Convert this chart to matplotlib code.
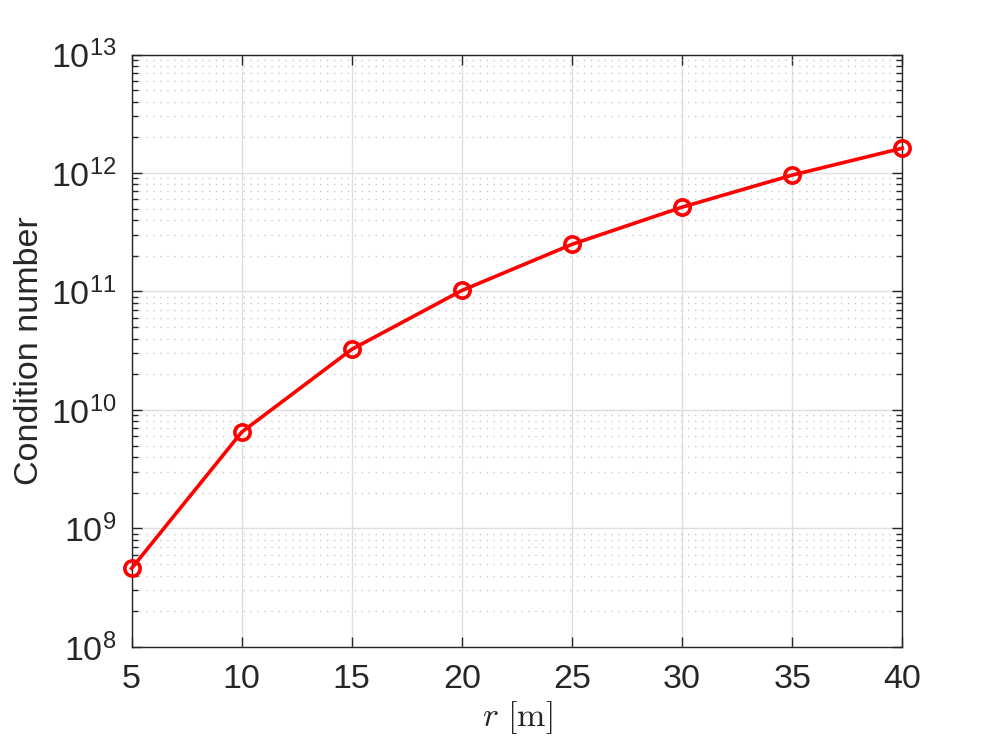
import numpy as np
import matplotlib
matplotlib.use("Agg")
import matplotlib.pyplot as plt
from matplotlib.ticker import LogLocator, FuncFormatter, NullFormatter

# data
r_vals = [5, 10, 15, 20, 25, 30, 35, 40]
cond_vals = [4.6e8, 6.5e9, 3.25e10, 1.02e11, 2.5e11, 5.15e11, 9.6e11, 1.62e12]

x_ticks = [5, 10, 15, 20, 25, 30, 35, 40]

plt.rcParams['font.family'] = ['Liberation Sans', 'DejaVu Sans']
plt.rcParams['mathtext.fontset'] = 'custom'
plt.rcParams['mathtext.rm'] = 'Liberation Sans'
plt.rcParams['mathtext.it'] = 'Liberation Sans:italic'

txt = '#262626'

fig = plt.figure(figsize=(9.97, 7.47), dpi=100)
ax = fig.add_axes([0.132, 0.134, 0.773, 0.793])

ax.plot(r_vals, cond_vals, '-o', color='#ff0000', lw=2.6, ms=11,
        mfc='none', mec='#ff0000', mew=2.6, zorder=5, clip_on=False)

ax.set_yscale('log')
ax.set_xlim(5, 40)
ax.set_ylim(1e8, 1e13)
ax.set_xticks(x_ticks)
ax.yaxis.set_major_locator(LogLocator(base=10, numticks=10))
ax.yaxis.set_minor_locator(LogLocator(base=10, subs=np.arange(2, 10), numticks=100))
ax.yaxis.set_major_formatter(FuncFormatter(lambda v, p: r'$10^{%d}$' % round(np.log10(v))))
ax.yaxis.set_minor_formatter(NullFormatter())

ax.grid(True, which='major', color='#dedede', lw=1.0, ls='-')
ax.grid(True, which='minor', axis='y', color='#c8c8c8', lw=1.0, ls=(0, (1, 4)))
ax.set_axisbelow(True)

ax.tick_params(which='both', direction='in', top=True, right=True, colors=txt,
               labelsize=24.5, width=1.0)
ax.tick_params(which='major', length=7)
ax.tick_params(axis='x', which='major', pad=12)
ax.tick_params(axis='y', which='major', pad=11)
ax.tick_params(which='minor', length=4)
ax.tick_params(axis='x', which='minor', bottom=False, top=False)
for sp in ax.spines.values():
    sp.set_color(txt)
    sp.set_linewidth(1.0)

ax.set_ylabel('Condition number', fontsize=24.5, color=txt, labelpad=4)
ax.set_xlabel(r'$r\ [\mathrm{m}]$', fontsize=24.5, color=txt, math_fontfamily='cm', labelpad=3)

fig.savefig('out.png', dpi=100)
